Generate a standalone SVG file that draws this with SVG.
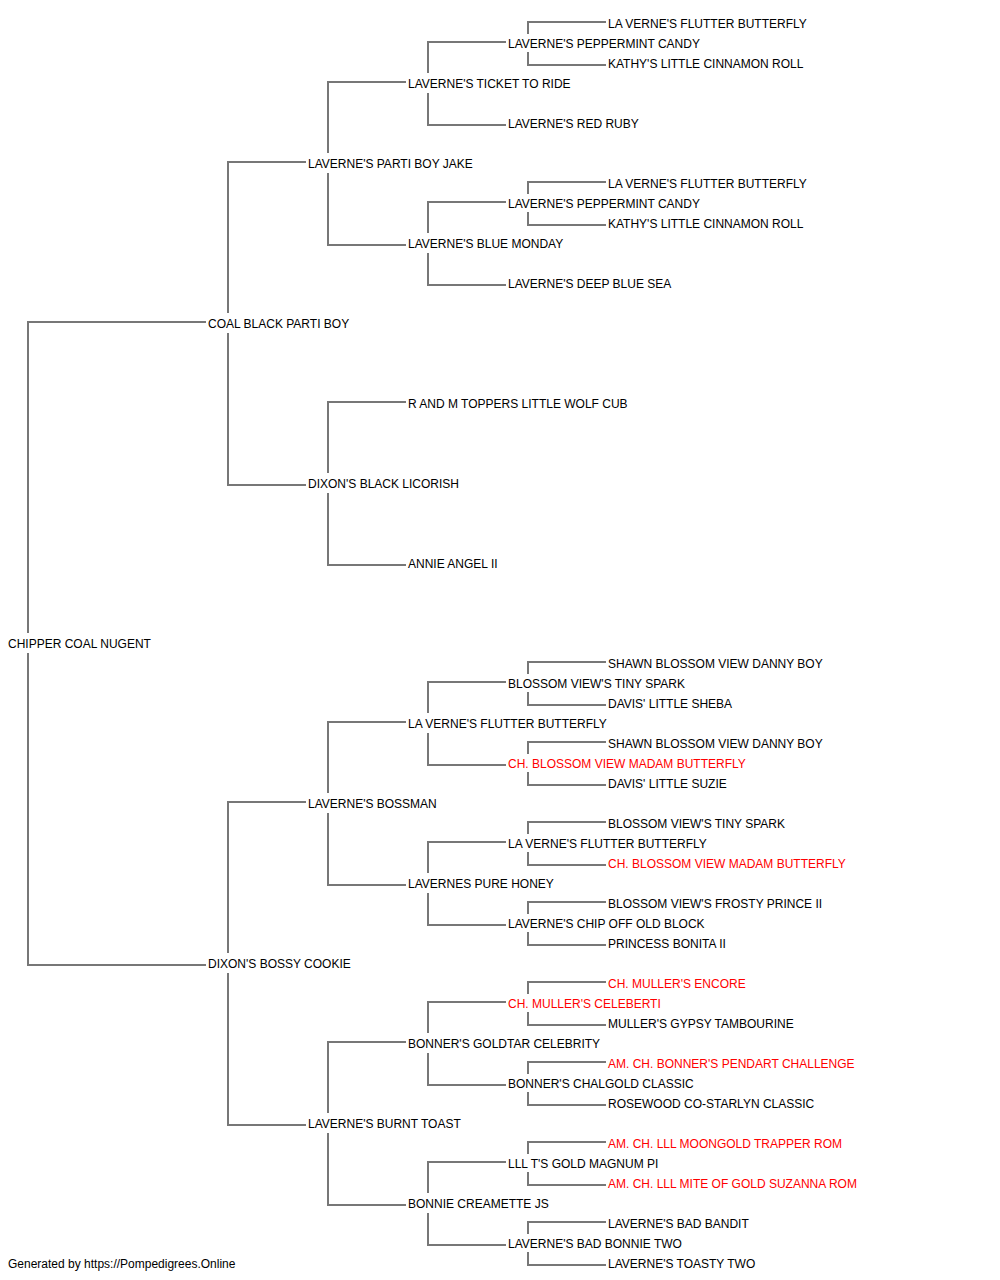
<svg xmlns="http://www.w3.org/2000/svg" width="1000" height="1280" viewBox="0 0 1000 1280">
<style>
text{font-family:"Liberation Sans",Arial,sans-serif;font-size:12px;fill:#000}
text.ch{fill:#ff0000}
.c path{fill:none;stroke:#777;stroke-width:2;stroke-linejoin:miter;stroke-linecap:butt}
</style>
<rect width="1000" height="1280" fill="#fff"/>
<g id="connectors" class="c">
<path d="M206 322H28V633M28 653V965H206"/>
<path d="M306 162H228V313M228 333V485H306"/>
<path d="M406 82H328V153M328 173V245H406"/>
<path d="M506 42H428V73M428 93V125H506"/>
<path d="M606 22H528V34M528 52V65H606"/>
<path d="M506 202H428V233M428 253V285H506"/>
<path d="M606 182H528V194M528 212V225H606"/>
<path d="M406 402H328V473M328 493V565H406"/>
<path d="M306 802H228V953M228 973V1125H306"/>
<path d="M406 722H328V793M328 813V885H406"/>
<path d="M506 682H428V713M428 733V765H506"/>
<path d="M606 662H528V674M528 692V705H606"/>
<path d="M606 742H528V754M528 772V785H606"/>
<path d="M506 842H428V873M428 893V925H506"/>
<path d="M606 822H528V834M528 852V865H606"/>
<path d="M606 902H528V914M528 932V945H606"/>
<path d="M406 1042H328V1113M328 1133V1205H406"/>
<path d="M506 1002H428V1033M428 1053V1085H506"/>
<path d="M606 982H528V994M528 1012V1025H606"/>
<path d="M606 1062H528V1074M528 1092V1105H606"/>
<path d="M506 1162H428V1193M428 1213V1245H506"/>
<path d="M606 1142H528V1154M528 1172V1185H606"/>
<path d="M606 1222H528V1234M528 1252V1265H606"/>
</g>
<g id="n0"><text x="608" y="28">LA VERNE'S FLUTTER BUTTERFLY</text></g>
<g id="n1"><text x="508" y="48">LAVERNE'S PEPPERMINT CANDY</text></g>
<g id="n2"><text x="608" y="68">KATHY'S LITTLE CINNAMON ROLL</text></g>
<g id="n3"><text x="408" y="88">LAVERNE'S TICKET TO RIDE</text></g>
<g id="n5"><text x="508" y="128">LAVERNE'S RED RUBY</text></g>
<g id="n7"><text x="308" y="168">LAVERNE'S PARTI BOY JAKE</text></g>
<g id="n8"><text x="608" y="188">LA VERNE'S FLUTTER BUTTERFLY</text></g>
<g id="n9"><text x="508" y="208">LAVERNE'S PEPPERMINT CANDY</text></g>
<g id="n10"><text x="608" y="228">KATHY'S LITTLE CINNAMON ROLL</text></g>
<g id="n11"><text x="408" y="248">LAVERNE'S BLUE MONDAY</text></g>
<g id="n13"><text x="508" y="288">LAVERNE'S DEEP BLUE SEA</text></g>
<g id="n15"><text x="208" y="328">COAL BLACK PARTI BOY</text></g>
<g id="n19"><text x="408" y="408">R AND M TOPPERS LITTLE WOLF CUB</text></g>
<g id="n23"><text x="308" y="488">DIXON'S BLACK LICORISH</text></g>
<g id="n27"><text x="408" y="568">ANNIE ANGEL II</text></g>
<g id="n31"><text x="8" y="648">CHIPPER COAL NUGENT</text></g>
<g id="n32"><text x="608" y="668">SHAWN BLOSSOM VIEW DANNY BOY</text></g>
<g id="n33"><text x="508" y="688">BLOSSOM VIEW'S TINY SPARK</text></g>
<g id="n34"><text x="608" y="708">DAVIS' LITTLE SHEBA</text></g>
<g id="n35"><text x="408" y="728">LA VERNE'S FLUTTER BUTTERFLY</text></g>
<g id="n36"><text x="608" y="748">SHAWN BLOSSOM VIEW DANNY BOY</text></g>
<g id="n37"><text class="ch" x="508" y="768">CH. BLOSSOM VIEW MADAM BUTTERFLY</text></g>
<g id="n38"><text x="608" y="788">DAVIS' LITTLE SUZIE</text></g>
<g id="n39"><text x="308" y="808">LAVERNE'S BOSSMAN</text></g>
<g id="n40"><text x="608" y="828">BLOSSOM VIEW'S TINY SPARK</text></g>
<g id="n41"><text x="508" y="848">LA VERNE'S FLUTTER BUTTERFLY</text></g>
<g id="n42"><text class="ch" x="608" y="868">CH. BLOSSOM VIEW MADAM BUTTERFLY</text></g>
<g id="n43"><text x="408" y="888">LAVERNES PURE HONEY</text></g>
<g id="n44"><text x="608" y="908">BLOSSOM VIEW'S FROSTY PRINCE II</text></g>
<g id="n45"><text x="508" y="928">LAVERNE'S CHIP OFF OLD BLOCK</text></g>
<g id="n46"><text x="608" y="948">PRINCESS BONITA II</text></g>
<g id="n47"><text x="208" y="968">DIXON'S BOSSY COOKIE</text></g>
<g id="n48"><text class="ch" x="608" y="988">CH. MULLER'S ENCORE</text></g>
<g id="n49"><text class="ch" x="508" y="1008">CH. MULLER'S CELEBERTI</text></g>
<g id="n50"><text x="608" y="1028">MULLER'S GYPSY TAMBOURINE</text></g>
<g id="n51"><text x="408" y="1048">BONNER'S GOLDTAR CELEBRITY</text></g>
<g id="n52"><text class="ch" x="608" y="1068">AM. CH. BONNER'S PENDART CHALLENGE</text></g>
<g id="n53"><text x="508" y="1088">BONNER'S CHALGOLD CLASSIC</text></g>
<g id="n54"><text x="608" y="1108">ROSEWOOD CO-STARLYN CLASSIC</text></g>
<g id="n55"><text x="308" y="1128">LAVERNE'S BURNT TOAST</text></g>
<g id="n56"><text class="ch" x="608" y="1148">AM. CH. LLL MOONGOLD TRAPPER ROM</text></g>
<g id="n57"><text x="508" y="1168">LLL T'S GOLD MAGNUM PI</text></g>
<g id="n58"><text class="ch" x="608" y="1188">AM. CH. LLL MITE OF GOLD SUZANNA ROM</text></g>
<g id="n59"><text x="408" y="1208">BONNIE CREAMETTE JS</text></g>
<g id="n60"><text x="608" y="1228">LAVERNE'S BAD BANDIT</text></g>
<g id="n61"><text x="508" y="1248">LAVERNE'S BAD BONNIE TWO</text></g>
<g id="n62"><text x="608" y="1268">LAVERNE'S TOASTY TWO</text></g>
<text x="8" y="1268">Generated by https://Pompedigrees.Online</text>
</svg>
